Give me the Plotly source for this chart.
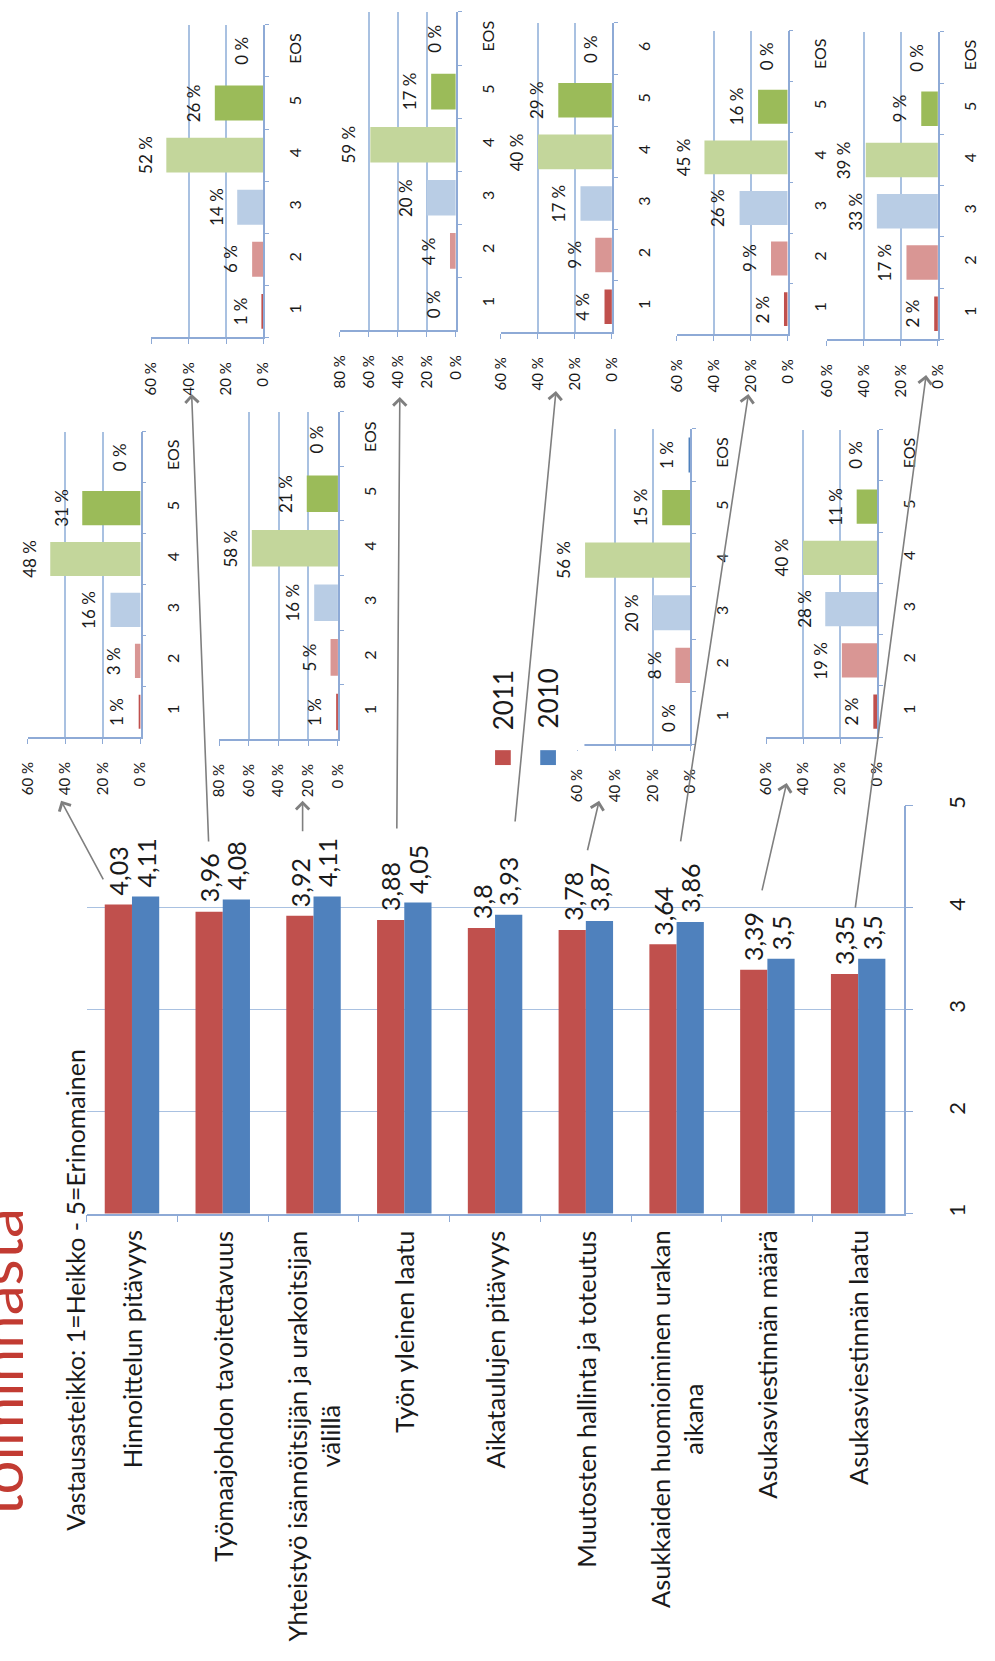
import plotly.graph_objects as go

W, H = 995, 1661
FONT = "Lato, 'Open Sans', sans-serif"
TXT = "#1a1a1a"

# ---------------- data ----------------
series_names = ["2011", "2010"]
categories = [
    "Hinnoittelun pitävyys",
    "Työmaajohdon tavoitettavuus",
    "Yhteistyö isännöitsijän ja urakoitsijan välillä",
    "Työn yleinen laatu",
    "Aikataulujen pitävyys",
    "Muutosten hallinta ja toteutus",
    "Asukkaiden huomioiminen urakan aikana",
    "Asukasviestinnän määrä",
    "Asukasviestinnän laatu",
]
category_labels = [
    "Hinnoittelun pitävyys",
    "Työmaajohdon tavoitettavuus",
    "Yhteistyö isännöitsijän ja urakoitsijan<br>välillä",
    "Työn yleinen laatu",
    "Aikataulujen pitävyys",
    "Muutosten hallinta ja toteutus",
    "Asukkaiden huomioiminen urakan<br>aikana",
    "Asukasviestinnän määrä",
    "Asukasviestinnän laatu",
]
scores_2011 = [4.03, 3.96, 3.92, 3.88, 3.8, 3.78, 3.64, 3.39, 3.35]
scores_2010 = [4.11, 4.08, 4.11, 4.05, 3.93, 3.87, 3.86, 3.5, 3.5]
scale_ticks = [1, 2, 3, 4, 5]
scale_note = "Vastausasteikko: 1=Heikko - 5=Erinomainen"
title_tail = "toiminnasta"

answer_scale = ["1", "2", "3", "4", "5", "EOS"]
answer_scale_alt = ["1", "2", "3", "4", "5", "6"]
dist_hinnoittelu = [1, 3, 16, 48, 31, 0]
dist_tyomaajohto = [1, 6, 14, 52, 26, 0]
dist_yhteistyo = [1, 5, 16, 58, 21, 0]
dist_laatu = [0, 4, 20, 59, 17, 0]
dist_aikataulu = [4, 9, 17, 40, 29, 0]
dist_muutokset = [0, 8, 20, 56, 15, 1]
dist_asukkaat = [2, 9, 26, 45, 16, 0]
dist_viestinta_maara = [2, 19, 28, 40, 11, 0]
dist_viestinta_laatu = [2, 17, 33, 39, 9, 0]
pct_ticks_60 = [0, 20, 40, 60]
pct_ticks_80 = [0, 20, 40, 60, 80]

# ---------------- styles ----------------
RED = "#C0504D"
BLUE = "#4F81BD"
ANSWER_COLORS = ["#C0504D", "#D99694", "#B9CDE5", "#C3D69B", "#9BBB59", "#4F81BD"]
GRID = "#A9C1E1"
AXIS = "#8EAAD6"
ARROW = "#7F7F7F"
BAR_W = 0.3


def px(x):
    return x / W


def py(y):
    return 1 - y / H


def fmt(v):
    return ("%g" % v).replace(".", ",")


fig = go.Figure()
annotations = []
shapes = []

# ---------------- main chart ----------------
for name, vals, col, off in [(series_names[0], scores_2011, RED, -BAR_W),
                             (series_names[1], scores_2010, BLUE, 0.0)]:
    fig.add_trace(go.Bar(
        x=categories, y=vals, name=name, marker=dict(color=col, line=dict(width=0)),
        width=BAR_W, offset=off,
        xaxis="x", yaxis="y", showlegend=False, hoverinfo="skip"))
    for j, v in enumerate(vals):
        annotations.append(dict(
            x=j + off + BAR_W / 2, y=v, xref="x", yref="y", text=fmt(v),
            showarrow=False, textangle=-90, xanchor="center", yanchor="bottom",
            yshift=7, font=dict(size=25, color=TXT, family=FONT)))

layout = dict(
    width=W, height=H, autosize=False,
    margin=dict(l=0, r=0, t=0, b=0),
    paper_bgcolor="white", plot_bgcolor="white",
    barmode="overlay",
    font=dict(family=FONT, color=TXT),
    showlegend=False,
)
layout["xaxis"] = dict(
    domain=[px(78), px(910)], anchor="y", type="category",
    range=[-0.5, len(categories) - 0.5], autorange=False,
    showticklabels=False, showgrid=False, zeroline=False,
    showline=True, linecolor=AXIS, linewidth=1.5,
    ticks="outside", tickson="boundaries", ticklen=7, tickcolor=AXIS,
)
layout["yaxis"] = dict(
    domain=[py(1213), py(802)], anchor="x", side="right",
    range=[1, 5], tickvals=scale_ticks, tickangle=-90,
    tickfont=dict(size=22, color=TXT, family=FONT),
    showgrid=True, gridcolor=GRID, gridwidth=1, zeroline=False,
    showline=True, linecolor=AXIS, linewidth=1.5,
    ticks="outside", ticklen=8, tickcolor=AXIS, ticklabelstandoff=25,
)

for j, lab in enumerate(category_labels):
    annotations.append(dict(
        x=j, y=py(1228), xref="x", yref="paper", text=lab, showarrow=False,
        textangle=-90, xanchor="center", yanchor="top", align="center",
        font=dict(size=25.5, color=TXT, family=FONT)))

annotations.append(dict(
    x=px(66), y=py(1290), xref="paper", yref="paper", text=scale_note,
    showarrow=False, textangle=-90, xanchor="center", yanchor="middle",
    font=dict(size=25, color=TXT, family=FONT)))

annotations.append(dict(
    x=px(29), y=py(1362), xref="paper", yref="paper", text=title_tail,
    showarrow=False, textangle=-90, xanchor="right", yanchor="middle",
    font=dict(size=60, color="#C23B32", family=FONT)))

# ---------------- small distribution charts ----------------
panels = [
    dict(vals=dist_hinnoittelu, cats=answer_scale, ticks=pct_ticks_60,
         box=(18, 133, 425, 733), tail=(95, 877), head=(52, 797)),
    dict(vals=dist_tyomaajohto, cats=answer_scale, ticks=pct_ticks_60,
         box=(144, 258, 15, 330), tail=(202, 836), head=(185, 387)),
    dict(vals=dist_yhteistyo, cats=answer_scale, ticks=pct_ticks_80,
         box=(213, 334, 405, 735), tail=(298, 829), head=(298, 797)),
    dict(vals=dist_laatu, cats=answer_scale, ticks=pct_ticks_80,
         box=(336, 454, 2, 323), tail=(394, 823), head=(397, 390)),
    dict(vals=dist_aikataulu, cats=answer_scale_alt, ticks=pct_ticks_60,
         box=(500, 613, 13, 325), tail=(515, 816), head=(556, 384)),
    dict(vals=dist_muutokset, cats=answer_scale, ticks=pct_ticks_60,
         box=(578, 693, 422, 740), tail=(588, 848), head=(600, 797)),
    dict(vals=dist_asukkaat, cats=answer_scale, ticks=pct_ticks_60,
         box=(679, 792, 21, 327), tail=(684, 836), head=(752, 387)),
    dict(vals=dist_viestinta_maara, cats=answer_scale, ticks=pct_ticks_60,
         box=(770, 883, 423, 733), tail=(766, 888), head=(791, 779)),
    dict(vals=dist_viestinta_laatu, cats=answer_scale, ticks=pct_ticks_60,
         box=(832, 945, 22, 332), tail=(862, 902), head=(933, 368)),
]

for i, p in enumerate(panels):
    k = i + 2
    xa, ya = "x%d" % k, "y%d" % k
    x0, x1, yt, yb = p["box"]
    fig.add_trace(go.Bar(
        x=p["vals"], y=p["cats"], orientation="h",
        marker=dict(color=ANSWER_COLORS, line=dict(width=0)), width=0.67,
        xaxis=xa, yaxis=ya, showlegend=False, hoverinfo="skip"))
    layout["xaxis%d" % k] = dict(
        domain=[px(x0), px(x1)], anchor=ya,
        range=[max(p["ticks"]), 0], autorange=False,
        tickvals=p["ticks"], ticktext=["%d %%" % t for t in p["ticks"]],
        tickangle=-90, tickfont=dict(size=15, color=TXT, family=FONT),
        showgrid=True, gridcolor=GRID, gridwidth=1.5, zeroline=False,
        showline=True, linecolor=AXIS, linewidth=1.5,
        ticks="outside", ticklen=5, tickcolor=AXIS, ticklabelstandoff=12,
    )
    layout["yaxis%d" % k] = dict(
        domain=[py(yb), py(yt)], anchor=xa, side="right",
        type="category", categoryorder="array", categoryarray=p["cats"],
        range=[-0.5, len(p["cats"]) - 0.5], autorange=False,
        tickangle=-90, tickfont=dict(size=16, color=TXT, family=FONT),
        showgrid=False, zeroline=False,
        showline=True, linecolor=AXIS, linewidth=1.5,
        ticks="outside", tickson="boundaries", ticklen=4, tickcolor=AXIS,
        ticklabelstandoff=17,
    )
    for j, v in enumerate(p["vals"]):
        annotations.append(dict(
            x=v, y=j, xref=xa, yref=ya, text="%d %%" % v, showarrow=False,
            textangle=-90, xanchor="right", yanchor="middle", xshift=-9,
            font=dict(size=17, color=TXT, family=FONT)))

# legend box partly covering the lower left part of one panel
shapes.append(dict(type="rect", xref="paper", yref="paper", layer="above",
                   x0=px(470), x1=px(585), y0=py(746), y1=py(622),
                   fillcolor="white", line=dict(width=0)))

# legend
for name, col, sx, ty in [(series_names[0], RED, 502, 728), (series_names[1], BLUE, 548, 726)]:
    shapes.append(dict(type="rect", xref="paper", yref="paper", layer="above",
                       x0=px(sx - 8), x1=px(sx + 8), y0=py(761), y1=py(746),
                       fillcolor=col, line=dict(width=0)))
    annotations.append(dict(
        x=px(sx), y=py(ty), xref="paper", yref="paper", text=name,
        showarrow=False, textangle=-90, xanchor="center", yanchor="bottom",
        font=dict(size=26, color=TXT, family=FONT)))

# arrows from main bars to distribution charts
for p in panels:
    tx, ty = p["tail"]
    hx, hy = p["head"]
    annotations.append(dict(
        x=px(hx), y=py(hy), xref="paper", yref="paper", text="",
        showarrow=True, ax=tx - hx, ay=ty - hy, axref="pixel", ayref="pixel",
        arrowhead=4, arrowsize=1.6, arrowwidth=1.6, arrowcolor=ARROW, standoff=0))

layout["annotations"] = annotations
layout["shapes"] = shapes
fig.update_layout(**layout)

fig.write_html("out.html")
